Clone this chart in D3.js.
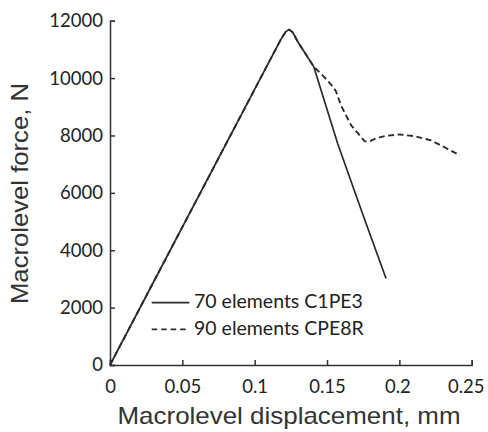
<!DOCTYPE html>
<html>
<head>
<meta charset="utf-8">
<script src="https://cdn.jsdelivr.net/npm/d3@7"></script>
<style>
  body { margin: 0; background: #fff; }
  svg { display: block; }
</style>
</head>
<body>
<svg id="chart"></svg>
<script>
// data
const solidX = [0, 0.118, 0.1215, 0.1238, 0.1262, 0.130, 0.1408, 0.1574, 0.1752, 0.1908];
const solidY = [0, 11340, 11620, 11690, 11600, 11250, 10400, 7711, 5183, 3016];

const dashedX = [0, 0.118, 0.1215, 0.1238, 0.1262, 0.130, 0.1408, 0.1480, 0.1530, 0.1560, 0.1597, 0.1667, 0.1760, 0.1790, 0.1840, 0.1910, 0.2002, 0.2110, 0.2222, 0.2419];
const dashedY = [0, 11340, 11620, 11690, 11600, 11250, 10400, 10040, 9760, 9560, 9043, 8348, 7800, 7790, 7900, 7990, 8035, 7970, 7826, 7304];

const xTicks = [0, 0.05, 0.1, 0.15, 0.2, 0.25];
const yTicks = [0, 2000, 4000, 6000, 8000, 10000, 12000];
const seriesNames = ['70 elements C1PE3', '90 elements CPE8R'];

const width = 488, height = 432;
const ink = '#333';
const tickFont = 'Lato, "Open Sans", sans-serif';
const titleFont = '"Liberation Sans", Arial, sans-serif';

const svg = d3.select('#chart')
  .attr('width', width)
  .attr('height', height);

const x = d3.scaleLinear().domain([0, 0.25]).range([110, 471.7]);
const y = d3.scaleLinear().domain([0, 12000]).range([365, 20.7]);

// axes, ticks point inward
const xAxis = svg.append('g')
  .attr('transform', `translate(0,${y(0)})`)
  .call(d3.axisBottom(x).tickValues(xTicks).tickSize(-5).tickPadding(15)
    .tickFormat(d => d === 0 ? '0' : String(+d.toFixed(2))));

const yAxis = svg.append('g')
  .attr('transform', `translate(${x(0)},0)`)
  .call(d3.axisLeft(y).tickValues(yTicks).tickSize(-5).tickPadding(7)
    .tickFormat(d3.format('d')));

[xAxis, yAxis].forEach(g => {
  g.select('.domain').attr('stroke', ink).attr('stroke-width', 1.5);
  g.selectAll('.tick line').attr('stroke', ink).attr('stroke-width', 1.5);
  g.selectAll('.tick text')
    .attr('fill', '#222')
    .style('font-family', tickFont)
    .style('font-size', '18.5px');
});

// last x label sits a bit left in the original so it stays inside
xAxis.selectAll('.tick text').filter(d => d === 0.25).attr('dx', -6);
xAxis.selectAll('.tick text').filter(d => d === 0.2).attr('dx', -2);

// axis titles
svg.append('text')
  .attr('x', 289)
  .attr('y', 424)
  .attr('text-anchor', 'middle')
  .attr('fill', '#333')
  .attr('textLength', 343)
  .attr('lengthAdjust', 'spacingAndGlyphs')
  .style('font-family', titleFont)
  .style('font-size', '24px')
  .text('Macrolevel displacement, mm');

svg.append('text')
  .attr('transform', 'translate(28,193.5) rotate(-90)')
  .attr('text-anchor', 'middle')
  .attr('fill', '#333')
  .attr('textLength', 221)
  .attr('lengthAdjust', 'spacingAndGlyphs')
  .style('font-family', titleFont)
  .style('font-size', '24px')
  .text('Macrolevel force, N');

// curves
const line = d3.line()
  .x(d => x(d[0]))
  .y(d => y(d[1]));

const solid = solidX.map((v, i) => [v, solidY[i]]);
const dashed = dashedX.map((v, i) => [v, dashedY[i]]);

svg.append('path')
  .datum(solid)
  .attr('d', line)
  .attr('fill', 'none')
  .attr('stroke', '#2b2b2b')
  .attr('stroke-width', 1.7)
  .attr('stroke-linejoin', 'round');

svg.append('path')
  .datum(dashed)
  .attr('d', line)
  .attr('fill', 'none')
  .attr('stroke', '#2b2b2b')
  .attr('stroke-width', 1.9)
  .attr('stroke-dasharray', '6,3.5')
  .attr('stroke-linejoin', 'round');

// legend
const legend = svg.append('g');
seriesNames.forEach((name, i) => {
  const ly = 302.7 + i * 26.6;
  legend.append('line')
    .attr('x1', 151.7).attr('x2', 189.3)
    .attr('y1', ly).attr('y2', ly)
    .attr('stroke', '#2b2b2b')
    .attr('stroke-width', 1.7)
    .attr('stroke-dasharray', i === 1 ? '5.5,4' : null);
  legend.append('text')
    .attr('x', 194)
    .attr('y', ly + 5.5)
    .attr('fill', '#222')
    .style('font-family', tickFont)
    .style('font-size', '19.5px')
    .text(name);
});
</script>
</body>
</html>
